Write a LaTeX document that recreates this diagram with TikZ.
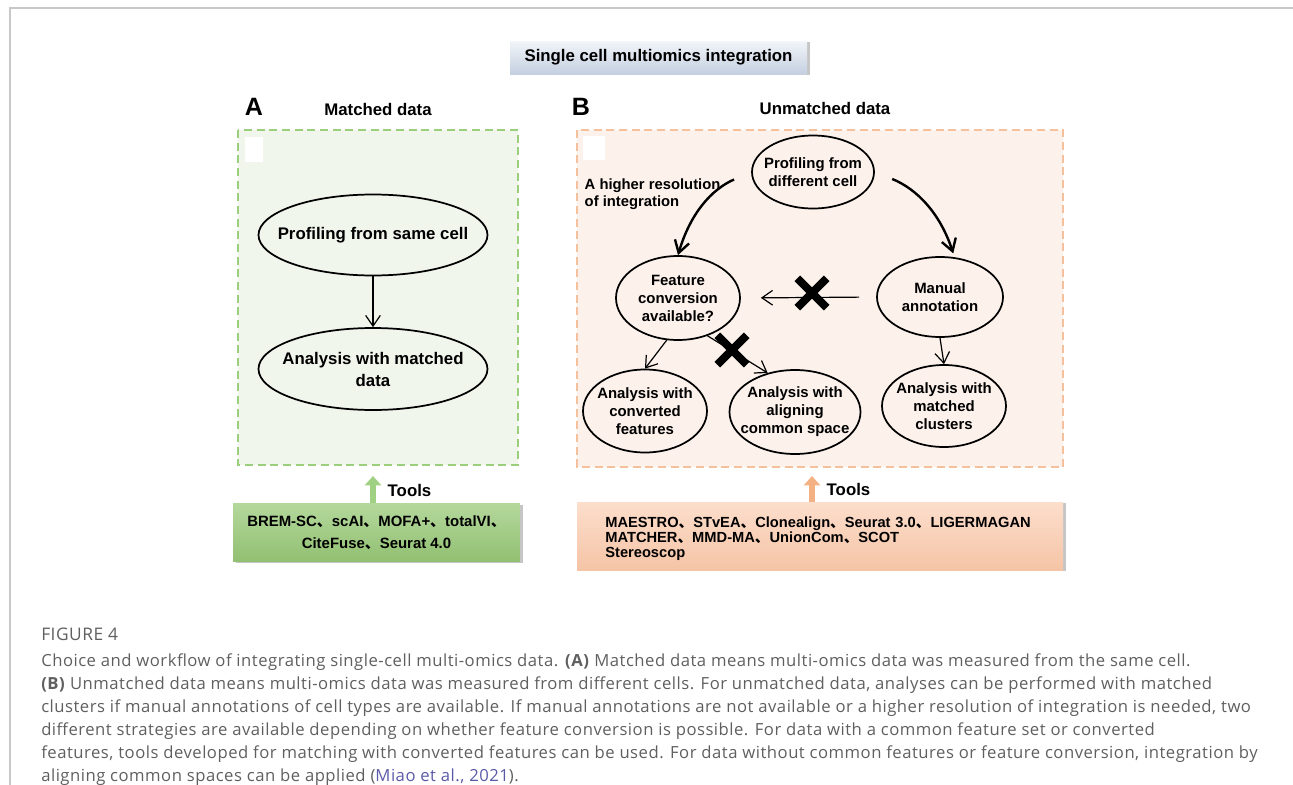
\documentclass[tikz,border=0pt]{standalone}
\usepackage{fontspec}
\setmainfont{Liberation Sans}
\newfontfamily\cjk{Noto Sans CJK SC}
\newfontfamily\capfont[LetterSpace=3]{Open Sans}
\usetikzlibrary{arrows.meta,shapes.geometric,shapes.misc,shadows}

\definecolor{framegrey}{RGB}{200,200,200}
\definecolor{titletop}{RGB}{242,245,250}
\definecolor{titlebot}{RGB}{196,207,224}
\definecolor{fillA}{RGB}{240,246,236}
\definecolor{dashA}{RGB}{156,207,124}
\definecolor{fillB}{RGB}{252,241,235}
\definecolor{dashB}{RGB}{245,192,156}
\definecolor{greentop}{RGB}{180,216,156}
\definecolor{greenbot}{RGB}{146,192,114}
\definecolor{orangetop}{RGB}{252,222,204}
\definecolor{orangebot}{RGB}{245,196,166}
\definecolor{toolgreen}{RGB}{160,208,130}
\definecolor{toolorange}{RGB}{244,177,131}
\definecolor{capgrey}{RGB}{95,95,95}
\definecolor{citeblue}{RGB}{90,90,168}

\newcommand{\dun}{{\cjk 、}}

\begin{document}
\begin{tikzpicture}[x=0.75pt,y=0.75pt,yscale=-1,xscale=1,
  oval/.style={draw, ellipse, line width=1.3pt, inner sep=-30pt, align=center,
    font=\bfseries\fontsize{11.2}{13.5}\selectfont},
  bigoval/.style={oval, font=\bfseries\fontsize{12.6}{16.5}\selectfont},
  flow/.style={line width=0.9pt, -{Straight Barb[length=8pt,width=11pt]}},
  swing/.style={line width=1.8pt, -{Straight Barb[length=9pt,width=11pt]}},
  nogo/.style={cross out, draw, line width=6pt, minimum size=16pt, inner sep=0pt},
  toolbox/.style={inner sep=0pt, drop shadow={shadow xshift=2pt, shadow yshift=-1pt, opacity=0.45}},
  toolarrow/.style={line width=5pt, -{Triangle[length=7pt,width=12pt]}},
  lbl/.style={font=\bfseries\fontsize{12.6}{15}\selectfont}
]

\useasboundingbox (0,0) rectangle (1293,785);
\draw[framegrey, line width=1.5pt] (9.5,785) -- (9.5,8) -- (1293,8);

% title
\node[toolbox, top color=titletop, bottom color=titlebot, minimum width=222.75pt, minimum height=24.75pt, lbl] (title) at (658.5,57.5) {Single cell multiomics integration};

% panel A
\node[font=\bfseries\fontsize{18.8}{20}\selectfont] (labA) at (254,107) {A};
\node[lbl] (headA) at (378,109) {Matched data};
\draw[dashA, fill=fillA, line width=1.6pt, dash pattern=on 6pt off 3.5pt] (238,130) rectangle (518,465);
\fill[white] (245,137) rectangle (263,162);

\node[bigoval, minimum width=171.75pt, minimum height=60.75pt] (profA) at (373,235) {Profiling from same cell};
\node[bigoval, minimum width=171.75pt, minimum height=61.5pt] (anaA) at (373,369) {Analysis with matched\\data};
\draw[flow] (profA) -- (anaA);

\node[toolbox, top color=greentop, bottom color=greenbot, minimum width=215pt, minimum height=44pt, align=center,
  font=\bfseries\fontsize{11.2}{17}\selectfont] (toolsA) at (376.5,532.5)
  {BREM-SC\dun scAI\dun MOFA+\dun totalVI\dun\\CiteFuse\dun Seurat 4.0};
\coordinate (upA) at (373,476);
\draw[toolgreen, toolarrow] (toolsA.north -| upA) -- (upA);
\node[lbl, anchor=west] (wordA) at (383,490) {Tools};

% panel B
\node[font=\bfseries\fontsize{18.8}{20}\selectfont] (labB) at (581,107) {B};
\node[lbl] (headB) at (825,108) {Unmatched data};
\draw[dashB, fill=fillB, line width=1.6pt, dash pattern=on 6pt off 3.5pt] (577,130) rectangle (1063,467);
\fill[white] (583,136) rectangle (605,160);

\node[lbl, font=\bfseries\fontsize{11.1}{13}\selectfont, align=left, anchor=north west] (higher) at (580,174) {A higher resolution\\of integration};

\node[oval, minimum width=91.5pt, minimum height=54.75pt] (prof) at (813,172) {Profiling from\\different cell};
\node[oval, minimum width=93pt, minimum height=63pt] (feat) at (678,298) {Feature\\conversion\\available?};
\node[oval, minimum width=94.5pt, minimum height=60pt] (manual) at (940,297) {Manual\\annotation};
\node[oval, minimum width=93pt, minimum height=62.25pt] (conv) at (645,411) {Analysis with\\converted\\features};
\node[oval, minimum width=98.25pt, minimum height=63pt] (align) at (795,412) {Analysis with\\aligning\\common space};
\node[oval, minimum width=93pt, minimum height=61.5pt] (clus) at (944,406) {Analysis with\\matched\\clusters};

\draw[swing, shorten <=14pt] (prof.west) to[bend left=25] (feat.north);
\draw[swing, shorten <=14pt, shorten >=3pt] (prof.east) to[bend right=25] (manual.70);
\draw[flow, shorten <=12.75pt, shorten >=15pt] (manual.west) -- (feat.east);
\draw[flow] (feat.-52) -- (align.125);
\draw[flow] (feat.-105) -- (conv.north);
\draw[flow] (manual.south) -- (clus.north);
\node[nogo] (stop1) at (812,293) {};
\node[nogo] (stop2) at (732,350) {};

\node[toolbox, top color=orangetop, bottom color=orangebot, minimum width=364.5pt, minimum height=51pt] (toolsB) at (820,536) {};
\node[font=\bfseries\fontsize{11}{11.3}\selectfont, align=left, text width=322pt] (listB) at ([yshift=2pt]toolsB.center) {MAESTRO\dun STvEA\dun Clonealign\dun Seurat 3.0\dun LIGERMAGAN\\MATCHER\dun MMD-MA\dun UnionCom\dun SCOT\\Stereoscop};
\coordinate (upB) at (812,476);
\draw[toolorange, toolarrow] (toolsB.north -| upB) -- (upB);
\node[lbl, anchor=west] (wordB) at (822,489) {Tools};

% caption
\node[anchor=base west, inner sep=0pt, text=capgrey, font=\capfont\fontsize{13}{14}\selectfont] (fig) at (41,640) {FIGURE 4};
\node[anchor=north west, inner sep=0pt, align=left, text=capgrey, font=\capfont\fontsize{12.5}{17.25}\selectfont] (cap) at (41,653)
{Choice and workflow of integrating single-cell multi-omics data. \textbf{(A)} Matched data means multi-omics data was measured from the same cell.\\
\textbf{(B)} Unmatched data means multi-omics data was measured from different cells. For unmatched data, analyses can be performed with matched\\
clusters if manual annotations of cell types are available. If manual annotations are not available or a higher resolution of integration is needed, two\\
different strategies are available depending on whether feature conversion is possible. For data with a common feature set or converted\\
features, tools developed for matching with converted features can be used. For data without common features or feature conversion, integration by\\
aligning common spaces can be applied ({\color{citeblue}Miao et al., 2021}).};

\end{tikzpicture}
\end{document}
